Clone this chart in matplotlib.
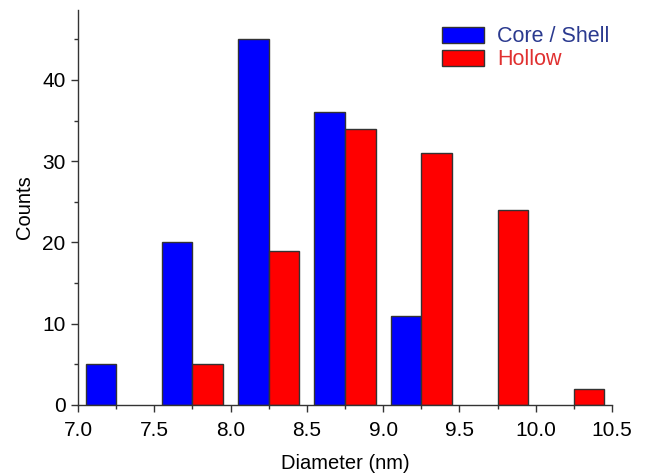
import matplotlib
matplotlib.use("Agg")
import matplotlib.pyplot as plt
from matplotlib.ticker import MultipleLocator
from matplotlib.patches import Patch

plt.rcParams['font.family'] = ['Liberation Sans', 'DejaVu Sans']

core_centers = [7.15, 7.65, 8.15, 8.65, 9.15]
core_counts = [5, 20, 45, 36, 11]
hollow_centers = [7.85, 8.35, 8.85, 9.35, 9.85, 10.35]
hollow_counts = [5, 19, 34, 31, 24, 2]
labels = ["Core / Shell", "Hollow"]
x_ticks = [7.0, 7.5, 8.0, 8.5, 9.0, 9.5, 10.0, 10.5]
y_ticks = [0, 10, 20, 30, 40]

fig = plt.figure(figsize=(6.45, 4.74), dpi=100)
ax = fig.add_axes([78/645, 1-405/474, (612-78)/645, (405-10)/474])

ax.bar(core_centers, core_counts, width=0.2, color='#0000ff', edgecolor='#333333', linewidth=1.0)
ax.bar(hollow_centers, hollow_counts, width=0.2, color='#ff0000', edgecolor='#333333', linewidth=1.0)

ax.set_xlim(7.0, 10.5)
ax.set_ylim(0, 48.6)
ax.set_xticks(x_ticks)
ax.set_xticklabels([f"{v:.1f}" for v in x_ticks])
ax.set_yticks(y_ticks)
ax.xaxis.set_minor_locator(MultipleLocator(0.25))
ax.yaxis.set_minor_locator(MultipleLocator(5))
for s in ['top', 'right']:
    ax.spines[s].set_visible(False)
for s in ['left', 'bottom']:
    ax.spines[s].set_linewidth(1.0)
    ax.spines[s].set_color('#333333')
ax.tick_params(which='major', direction='out', length=5, width=1.0, labelsize=15, color='#333333')
ax.tick_params(axis='x', which='major', pad=6.5)
ax.tick_params(axis='y', which='major', pad=4)
ax.tick_params(which='minor', direction='out', length=3, width=1.0, color='#333333')
ax.set_xlabel("Diameter (nm)", fontsize=14.5, labelpad=10)
ax.set_ylabel("Counts", fontsize=14.5, labelpad=6)

handles = [Patch(facecolor='#0000ff', edgecolor='#333333'), Patch(facecolor='#ff0000', edgecolor='#333333')]
leg = ax.legend(handles, labels, loc='upper left', bbox_to_anchor=(438/645, 1-22/474),
                bbox_transform=fig.transFigure, frameon=False, fontsize=15.5,
                handlelength=1.95, handleheight=0.78, handletextpad=0.6, labelspacing=0.1,
                labelcolor=['#2b3a8f', '#e03030'], borderpad=0.2, borderaxespad=0)

fig.savefig("out.png", dpi=100)
